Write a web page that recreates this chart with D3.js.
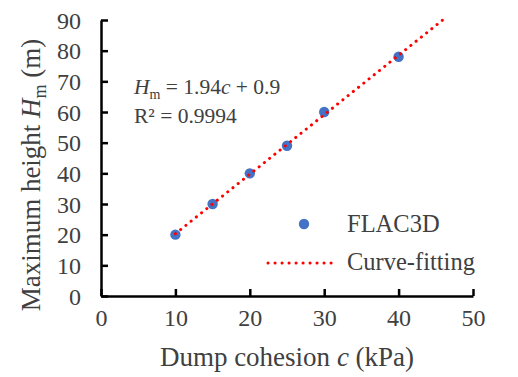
<!DOCTYPE html>
<html><head><meta charset="utf-8">
<script src="https://cdn.jsdelivr.net/npm/d3@7"></script>
<style>
html,body{margin:0;padding:0;background:#fff;}
svg{display:block;}
</style></head>
<body>
<svg id="chart" width="518" height="377"></svg>
<script>
const cohesion = [10, 15, 20, 25, 30, 40];
const heightM = [20, 30, 40, 49, 60, 78];
const xTicks = [0, 10, 20, 30, 40, 50];
const yTicks = [0, 10, 20, 30, 40, 50, 60, 70, 80, 90];
const fitSlope = 1.94, fitIntercept = 0.9;
const fitRange = [10, 45.93];

const FONT = "Liberation Serif";
const TXT = "#404040";
const svg = d3.select("#chart");
const x = d3.scaleLinear().domain([0, 50]).range([101, 473]);
const y = d3.scaleLinear().domain([0, 90]).range([296, 20]);

// axes
const xAxis = svg.append("g").attr("transform", `translate(0,${y(0)})`)
  .call(d3.axisBottom(x).tickValues(xTicks).tickSizeInner(-7).tickSizeOuter(0).tickPadding(13));
const yAxis = svg.append("g").attr("transform", `translate(${x(0)},0)`)
  .call(d3.axisLeft(y).tickValues(yTicks).tickSizeInner(-7).tickSizeOuter(0).tickPadding(20));
[xAxis, yAxis].forEach(g => {
  g.attr("font-family", FONT).attr("font-size", 24);
  g.select(".domain").attr("stroke", "#000").attr("stroke-width", 2.5);
  g.selectAll(".tick line").attr("stroke", "#000").attr("stroke-width", 2.5);
  g.selectAll(".tick text").style("font-family", FONT).style("font-size", "24px").style("fill", TXT);
});
yAxis.selectAll(".tick text").attr("dy", "0.34em");

// fit line
const line = d3.line().x(d => x(d)).y(d => y(fitSlope * d + fitIntercept));

// points
svg.selectAll("circle.pt").data(cohesion).enter().append("circle").attr("class", "pt")
  .attr("cx", d => x(d)).attr("cy", (d, i) => y(heightM[i])).attr("r", 5.2)
  .attr("fill", "#4472c4");
svg.append("path").datum(fitRange).attr("d", line)
  .attr("fill", "none").attr("stroke", "#ff0000").attr("stroke-width", 3)
  .attr("stroke-linecap", "round").attr("stroke-dasharray", "0.1 6.6");

function txt(sel) { return sel.style("font-family", FONT).style("fill", TXT); }

// equation
const eq = txt(svg.append("text")).attr("x", 134).attr("y", 94).style("font-size", "21.5px");
eq.append("tspan").style("font-style", "italic").text("H");
eq.append("tspan").style("font-size", "14px").attr("dy", 5).text("m");
eq.append("tspan").attr("dy", -5).text(" = 1.94");
eq.append("tspan").style("font-style", "italic").text("c");
eq.append("tspan").text(" + 0.9");
txt(svg.append("text")).attr("x", 134).attr("y", 123).style("font-size", "21.5px").text("R² = 0.9994");

// legend
svg.append("circle").attr("cx", 304).attr("cy", 224).attr("r", 5.2).attr("fill", "#4472c4");
txt(svg.append("text")).attr("x", 347).attr("y", 232).style("font-size", "24.5px").text("FLAC3D");
svg.append("line").attr("x1", 268).attr("x2", 338).attr("y1", 263).attr("y2", 263)
  .attr("stroke", "#ff0000").attr("stroke-width", 3).attr("stroke-linecap", "round").attr("stroke-dasharray", "0.1 6.9");
txt(svg.append("text")).attr("x", 347).attr("y", 270).style("font-size", "24.5px").text("Curve-fitting");

// axis titles
const xt = txt(svg.append("text")).attr("x", 287).attr("y", 366).attr("text-anchor", "middle").style("font-size", "27px");
xt.append("tspan").text("Dump cohesion ");
xt.append("tspan").style("font-style", "italic").text("c");
xt.append("tspan").text(" (kPa)");

const yt = txt(svg.append("text")).attr("transform", "translate(40,175) rotate(-90)").attr("text-anchor", "middle").style("font-size", "27px");
yt.append("tspan").text("Maximum height ");
yt.append("tspan").style("font-style", "italic").text("H");
yt.append("tspan").style("font-size", "18px").attr("dy", 6).text("m");
yt.append("tspan").attr("dy", -6).text(" (m)");
</script>
</body></html>
